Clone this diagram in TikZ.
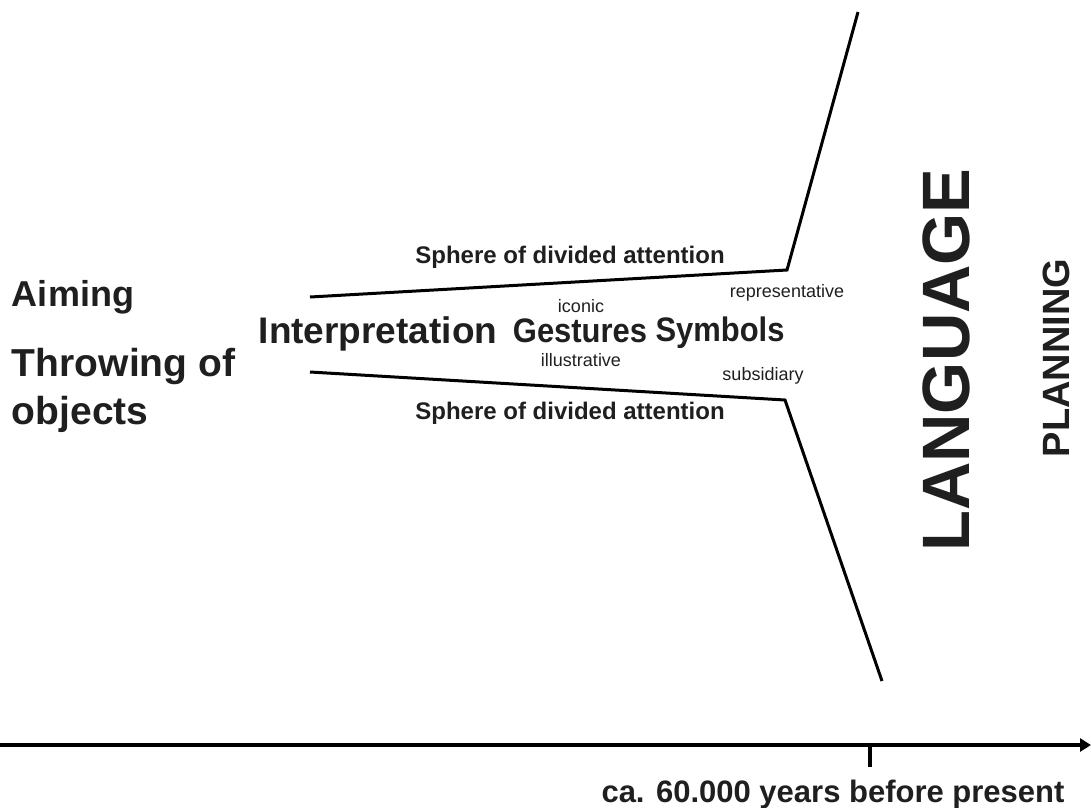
\documentclass[tikz,border=0pt]{standalone}
\usepackage{fontspec}
\setmainfont{Liberation Sans}
\usepackage{graphicx}
\usetikzlibrary{arrows.meta}
\newcommand{\fsz}[1]{\fontsize{#1}{#1}\selectfont}
\newcommand{\narrow}[1]{\scalebox{0.91}[1]{#1}}
\tikzset{
  txt/.style={inner sep=0pt, outer sep=0pt, text=black!88},
  lefttext/.style={txt, anchor=base west, font=\fsz{#1}\bfseries},
  stage/.style={txt, anchor=base, font=\fsz{#1}\bfseries},
  minor/.style={txt, anchor=base, font=\fsz{18}},
  sphere/.style={txt, anchor=base, font=\fsz{24}\bfseries},
  vert/.style={txt, rotate=90, font=\fsz{#1}\bfseries},
  funnel/.style={line width=3pt, line join=miter},
  timeline/.style={line width=4.5pt, -{Triangle[length=11pt,width=13pt]}},
  tick/.style={line width=4pt}
}
\begin{document}
\begin{tikzpicture}[x=1pt,y=-1pt]
\useasboundingbox (0,0) rectangle (1091,807);

% early abilities
\node[lefttext=36] (aim) at (12,306) {Aiming};
\node[lefttext=39] (throw) at (12,376) {Throwing of};
\node[lefttext=39] (obj) at (12,424) {objects};

% stages inside the funnel
\node[stage=37] (interp) at (378,343) {Interpretation};
\node[stage=34] (gest) at (580,342) {\narrow{Gestures}};
\node[stage=34] (symb) at (720,341) {\narrow{Symbols}};
\node[minor] (iconic) at (581,312) {iconic};
\node[minor] (illus) at (581,366) {illustrative};
\node[minor] (repr) at (787,297) {representative};
\node[minor] (subs) at (763,380) {subsidiary};
\node[sphere] (sphU) at (570,263) {Sphere of divided attention};
\node[sphere] (sphL) at (570,419) {Sphere of divided attention};

% funnel outline
\coordinate (uA) at (310,297);
\coordinate (uB) at (787,270);
\coordinate (uC) at (858,12);
\coordinate (lA) at (310,372);
\coordinate (lB) at (785,400);
\coordinate (lC) at (882,681);
\draw[funnel] (uA) -- (uB) -- (uC);
\draw[funnel] (lA) -- (lB) -- (lC);

% outcome
\node[vert=67] (lang) at (946,360) {LANGUAGE};
\node[vert=38] (plan) at (1056,358) {PLANNING};

% time axis
\coordinate (t0) at (0,745);
\coordinate (t1) at (1091,745);
\coordinate (m0) at (870,745);
\coordinate (m1) at (870,767);
\draw[timeline] (t0) -- (t1);
\draw[tick] (m0) -- (m1);
\node[stage=31] (date) at (833,802) {ca. 60.000 years before present};
\end{tikzpicture}
\end{document}
